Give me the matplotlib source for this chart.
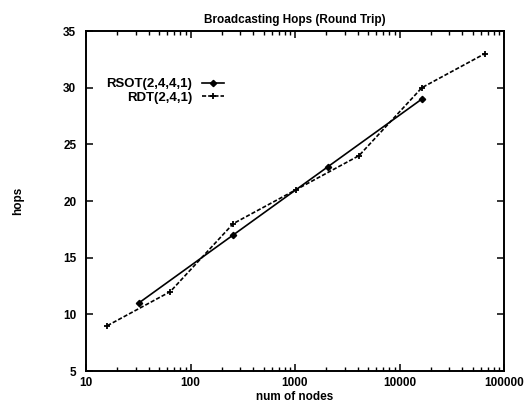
import matplotlib
matplotlib.use("Agg")
import matplotlib.pyplot as plt
from matplotlib.ticker import LogLocator, NullFormatter

plt.rcParams['font.family'] = ['Liberation Sans', 'DejaVu Sans']
plt.rcParams['font.weight'] = 'bold'

# Data
rsot_nodes = [32, 256, 2048, 16384]
rsot_hops = [11, 17, 23, 29]
rdt_nodes = [16, 64, 256, 1024, 4096, 16384, 65536]
rdt_hops = [9, 12, 18, 21, 24, 30, 33]

x_ticks = [10, 100, 1000, 10000, 100000]
x_tick_labels = ["10", "100", "1000", "10000", "100000"]
y_ticks = [5, 10, 15, 20, 25, 30, 35]

title = "Broadcasting Hops (Round Trip)"
x_label = "num of nodes"
y_label = "hops"
series_labels = ["RSOT(2,4,4,1)", "RDT(2,4,1)"]

fig = plt.figure(figsize=(5.26, 4.07), dpi=100)
ax = fig.add_axes([86/526, 1-371/407, (504-86)/526, (371-31)/407])

ax.plot(rsot_nodes, rsot_hops, color='black', lw=1.2, marker='D', ms=3.2,
        mfc='black', mec='black', label=series_labels[0])
ax.plot(rdt_nodes, rdt_hops, color='black', lw=1.2, ls=(0, (2.5, 1.2)), marker='+',
        ms=5, mew=1.3, label=series_labels[1])

ax.set_xscale('log')
ax.set_xlim(10, 100000)
ax.set_ylim(5, 35)
ax.set_xticks(x_ticks)
ax.set_xticklabels(x_tick_labels)
ax.xaxis.set_minor_locator(LogLocator(base=10, subs=range(2, 10)))
ax.xaxis.set_minor_formatter(NullFormatter())
ax.set_yticks(y_ticks)

ax.tick_params(which='both', direction='in', top=True, right=True, labelsize=8.5)
ax.tick_params(which='major', length=5, width=1.1)
ax.tick_params(which='minor', length=3, width=1.0)
ax.tick_params(axis='y', pad=7)
ax.tick_params(axis='x', pad=4)
for s in ax.spines.values():
    s.set_linewidth(1.4)

ax.set_title(title, fontsize=8.5, pad=6, fontweight='bold')
ax.set_xlabel(x_label, fontsize=8.5, labelpad=2, fontweight='bold')
ax.set_ylabel(y_label, fontsize=8.5, fontweight='bold')
ax.yaxis.set_label_coords(-0.148, 0.5)

ax.legend(loc='upper right', bbox_to_anchor=(0.33, 0.862), frameon=False,
          markerfirst=False, prop={'size': 9.5, 'weight': 'bold'},
          handlelength=1.7, handletextpad=0.7,
          labelspacing=0.1, borderpad=0, borderaxespad=0)

fig.savefig("out.png", dpi=100)
